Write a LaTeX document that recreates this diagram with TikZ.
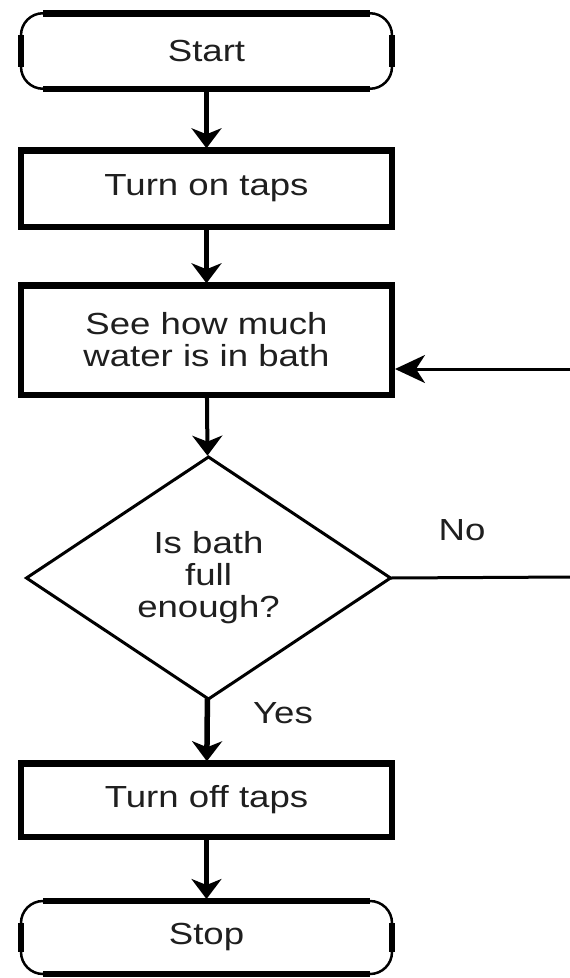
\documentclass[tikz,border=0pt]{standalone}
\usepackage{fontspec}
\setmainfont{Liberation Sans}[FakeStretch=1.2]
\usetikzlibrary{arrows.meta,shapes.geometric}
\begin{document}
\begin{tikzpicture}[x=1pt,y=-1pt,
  every node/.style={font=\fontsize{30.5}{32}\selectfont, text=black!88, align=center, inner sep=0pt, outer sep=0pt},
  boxnode/.style={draw=black, rectangle, line width=6.5pt, minimum width=371pt},
  termnode/.style={draw=black, rectangle, line width=2.5pt, rounded corners=22pt, minimum width=371pt},
  decnode/.style={draw=black, diamond, line width=3pt, minimum width=364pt, minimum height=242pt},
  flow/.style={line width=5.5pt, -{Stealth[length=20pt,width=30pt,inset=6pt]}, shorten >=2pt},
  back/.style={line width=3pt, -{Stealth[length=30pt,width=28pt,inset=9pt]}, shorten >=3pt},
  plain/.style={line width=3pt},
  thickside/.style={line width=6.5pt}
]
\useasboundingbox (0,0) rectangle (570,978);
\fill[white] (0,0) rectangle (570,978);

\node[termnode, minimum height=75.5pt] (start) at (206.5,51) {Start};
\node[boxnode, minimum height=76.5pt] (on) at (206.5,188.5) {Turn on taps};
\node[boxnode, minimum height=109.5pt] (see) at (206.5,340) {See how much\\water is in bath};
\node[decnode] (dec) at (208.5,578) {Is bath\\full\\enough?};
\node[boxnode, minimum height=73.5pt] (off) at (206.5,800) {Turn off taps};
\node[termnode, minimum height=73pt] (stop) at (206.5,937.5) {Stop};

\foreach \n in {start,stop}{
  \draw[thickside] ([xshift=22pt]\n.north west) -- ([xshift=-22pt]\n.north east);
  \draw[thickside] ([xshift=22pt]\n.south west) -- ([xshift=-22pt]\n.south east);
  \draw[thickside] ([yshift=-22pt]\n.north west) -- ([yshift=22pt]\n.south west);
  \draw[thickside] ([yshift=-22pt]\n.north east) -- ([yshift=22pt]\n.south east);
}

\node (no) at (462,530) {No};
\node (yes) at (283,713) {Yes};

\coordinate (r1) at (572,369);
\coordinate (r2) at (572,577);

\draw[flow] (start) -- (on);
\draw[flow] (on) -- (see);
\draw[flow, line width=4pt] (see) -- (dec);
\draw[flow] (dec) -- (off);
\draw[flow] (off) -- (stop);
\draw[back] (r1) -- (see.east |- r1);
\draw[plain] (dec.east) -- (r2);
\end{tikzpicture}
\end{document}
